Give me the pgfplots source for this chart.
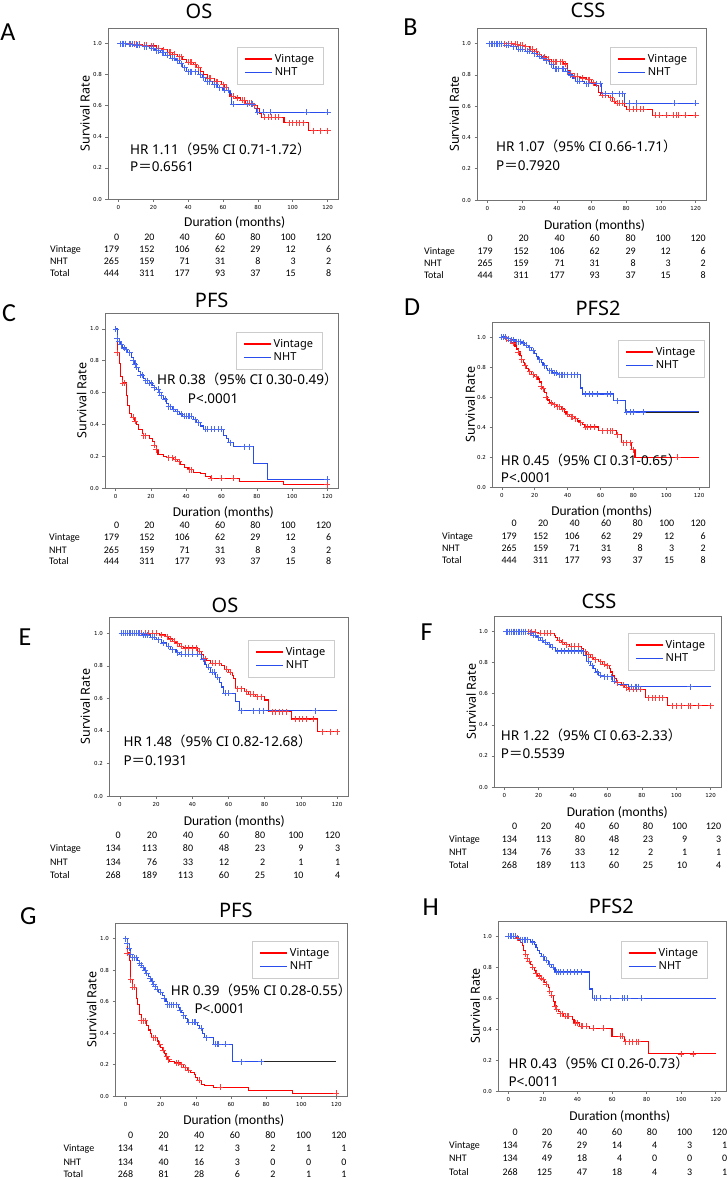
\documentclass[border=0pt]{standalone}
\usepackage{fontspec}
\usepackage{pgfplots}
\pgfplotsset{compat=1.18}
\setmainfont{Carlito}
\newfontfamily\nsans{Noto Sans}
\newfontfamily\cjk{Noto Sans CJK JP}
\newfontfamily\tickfont{DejaVu Sans}
\newcommand{\lp}{{\cjk （}}
\newcommand{\rp}{{\cjk ）}}
\newcommand{\eq}{{\cjk ＝}}
\definecolor{kmred}{rgb}{1,0,0}
\definecolor{kmblue}{rgb}{0.16,0.3,0.93}
\definecolor{kmredm}{rgb}{1,0.24,0.24}
\definecolor{kmbluem}{rgb}{0.3,0.42,0.96}
\definecolor{frame}{rgb}{0.45,0.45,0.45}
\pgfplotsset{
  legend image code/.code={\draw[#1] (0pt,0pt) -- (20pt,0pt); \path (-1pt,0pt) -- (26pt,0pt);},
  km/.style={
    scale only axis, anchor=north west,
    xmin=-6, xmax=126, ymin=0, ymax=1.1,
    xtick={0,20,40,60,80,100,120},
    ytick={0,0.2,0.4,0.6,0.8,1.0},
    yticklabel style={/pgf/number format/.cd,fixed,fixed zerofill,precision=1},
    /pgf/number format/assume math mode=true,
    tick label style={font=\tickfont\fontsize{5.5}{6}\selectfont},
    xtick pos=bottom, ytick pos=left, tick align=outside,
    major tick length=2.5pt,
    every tick/.style={draw=frame, line width=0.5pt},
    axis line style={draw=frame, line width=0.8pt},
    ylabel={Survival Rate},
    ylabel style={at={(axis description cs:-0.1,0.5)}, anchor=center, font=\nsans\fontsize{12.5}{13}\selectfont},
    legend entries={Vintage,NHT},
    legend cell align=left,
    legend style={anchor=north west, draw=black!20, fill=white, font=\nsans\fontsize{11}{12}\selectfont, inner xsep=7pt, inner ysep=5pt, row sep=0pt},
  },
  legred/.style={draw=kmred, line width=1.6pt},
  legblue/.style={draw=kmblue, line width=1.6pt},
  rl/.style={draw=kmred, const plot, line width=1.1pt, mark=none, forget plot},
  bl/.style={draw=kmblue, const plot, line width=1.1pt, mark=none, forget plot},
  rm/.style={draw=kmredm, only marks, mark=+, mark size=3pt, mark options={draw=kmredm, line width=0.75pt}, forget plot},
  bm/.style={draw=kmbluem, only marks, mark=+, mark size=3pt, mark options={draw=kmbluem, line width=0.75pt}, forget plot},
  kt/.style={draw=black!85, line width=1.0pt, mark=none, forget plot},
}
\newcommand{\legimgs}{\addlegendimage{legred}\addlegendimage{legblue}}
\newcommand{\tabrow}[9]{%
  \node[anchor=base west] at (\lx,#1) {#2};
  \node[anchor=base east] at (\ca,#1) {#3};
  \node[anchor=base east] at (\cb,#1) {#4};
  \node[anchor=base east] at (\cc,#1) {#5};
  \node[anchor=base east] at (\cd,#1) {#6};
  \node[anchor=base east] at (\ce,#1) {#7};
  \node[anchor=base east] at (\cf,#1) {#8};
  \node[anchor=base east] at (\cg,#1) {#9};}
\newcommand{\cols}[8]{\def\lx{#1}\def\ca{#2}\def\cb{#3}\def\cc{#4}\def\cd{#5}\def\ce{#6}\def\cf{#7}\def\cg{#8}}
\begin{document}
\begin{tikzpicture}
\useasboundingbox (0pt,0pt) rectangle (728pt,-1178pt);

% ---------------- A: OS ----------------
\begin{axis}[km, at={(108pt,-28pt)}, width=230pt, height=171pt, legend style={at={(0.561,0.889)}}]
\legimgs
\addplot[rl] coordinates {(0,1) (8,0.995) (14,0.99) (18,0.985) (22,0.97) (25,0.96) (28,0.945) (31,0.93) (34,0.915) (37,0.90) (39,0.88) (43,0.865) (45,0.845) (47,0.82) (49,0.80) (51,0.776) (55,0.755) (59,0.735) (61,0.72) (63,0.69) (64,0.66) (67,0.65) (70,0.635) (73,0.615) (77,0.60) (80,0.58) (81,0.55) (82,0.525) (95,0.49) (109,0.44) (120,0.44)};
\addplot[bl] coordinates {(0,1) (5,0.995) (9,0.99) (14,0.98) (18,0.97) (21,0.955) (24,0.94) (27,0.925) (30,0.905) (33,0.89) (35,0.87) (37,0.845) (39,0.82) (46,0.80) (48,0.78) (50,0.755) (54,0.735) (57,0.715) (60,0.70) (64,0.68) (65,0.61) (78,0.585) (79,0.558) (120,0.558)};
\addplot[rm] coordinates {(2,1) (4,1) (6,1) (9,0.995) (10,0.995) (12,0.995) (15,0.99) (16,0.99) (19,0.985) (20,0.985) (23,0.97) (26,0.96) (29,0.945) (30,0.945) (32,0.93) (35,0.915) (36,0.915) (40,0.88) (41,0.88) (42,0.88) (44,0.865) (46,0.845) (52,0.776) (53,0.776) (56,0.755) (57,0.755) (60,0.735) (62,0.72) (66,0.66) (68,0.65) (71,0.635) (72,0.635) (74,0.615) (75,0.615) (76,0.615) (78,0.60) (84,0.525) (86,0.525) (88,0.525) (90,0.525) (92,0.525) (98,0.49) (100,0.49) (102,0.49) (104,0.49) (106,0.49) (112,0.44) (116,0.44) (120,0.44)};
\addplot[bm] coordinates {(1,1) (2,1) (3,1) (4,1) (6,0.995) (7,0.995) (8,0.995) (10,0.99) (11,0.99) (12,0.99) (15,0.98) (16,0.98) (19,0.97) (20,0.97) (22,0.955) (23,0.955) (25,0.94) (26,0.94) (28,0.925) (31,0.905) (32,0.905) (34,0.89) (36,0.87) (38,0.845) (40,0.82) (41,0.82) (42,0.82) (44,0.82) (47,0.80) (49,0.78) (51,0.755) (52,0.755) (55,0.735) (56,0.735) (58,0.715) (61,0.70) (63,0.70) (66,0.61) (74,0.61) (76,0.61) (77,0.61) (80,0.558) (83,0.558) (87,0.558) (108,0.558) (120,0.558)};
\end{axis}

% ---------------- B: CSS ----------------
\begin{axis}[km, at={(477pt,-28pt)}, width=229pt, height=172pt, legend style={at={(0.581,0.890)}}]
\legimgs
\addplot[rl] coordinates {(0,1) (15,0.995) (18,0.99) (21,0.98) (24,0.965) (27,0.95) (29,0.93) (31,0.915) (34,0.90) (37,0.885) (44,0.87) (46,0.83) (47,0.81) (49,0.79) (53,0.78) (57,0.77) (60,0.75) (62,0.73) (64,0.69) (65,0.67) (70,0.655) (72,0.63) (74,0.62) (79,0.60) (80,0.58) (95,0.543) (120,0.543)};
\addplot[bl] coordinates {(0,1) (10,0.99) (14,0.98) (17,0.965) (22,0.95) (26,0.935) (29,0.92) (31,0.905) (33,0.89) (36,0.865) (38,0.84) (45,0.82) (47,0.80) (49,0.78) (51,0.76) (56,0.745) (66,0.68) (79,0.62) (120,0.62)};
\addplot[rm] coordinates {(3,1) (6,1) (8,1) (10,1) (12,1) (14,1) (16,0.995) (17,0.995) (19,0.99) (20,0.99) (22,0.98) (25,0.965) (26,0.965) (28,0.95) (30,0.93) (33,0.915) (35,0.90) (38,0.885) (39,0.885) (40,0.885) (42,0.885) (43,0.885) (45,0.87) (48,0.81) (50,0.79) (52,0.79) (55,0.78) (58,0.77) (59,0.77) (61,0.75) (66,0.67) (68,0.67) (71,0.655) (73,0.63) (75,0.62) (76,0.62) (78,0.62) (82,0.58) (84,0.58) (86,0.58) (88,0.58) (90,0.58) (97,0.543) (99,0.543) (103,0.543) (107,0.543) (109,0.543) (110,0.543) (114,0.543) (120,0.543)};
\addplot[bm] coordinates {(1,1) (2,1) (3,1) (4,1) (5,1) (6,1) (7,1) (8,1) (11,0.99) (12,0.99) (15,0.98) (18,0.965) (19,0.965) (20,0.965) (23,0.95) (24,0.95) (27,0.935) (30,0.92) (32,0.905) (34,0.89) (37,0.865) (39,0.84) (40,0.84) (41,0.84) (43,0.84) (44,0.84) (46,0.82) (48,0.80) (52,0.76) (53,0.76) (57,0.745) (58,0.745) (63,0.745) (65,0.745) (68,0.68) (72,0.68) (76,0.68) (78,0.68) (82,0.62) (86,0.62) (108,0.62) (120,0.62)};
\end{axis}

% ---------------- C: PFS ----------------
\begin{axis}[km, at={(105pt,-313pt)}, width=233pt, height=175pt, legend style={at={(0.562,0.891)}}]
\legimgs
\addplot[rl] coordinates {(0,1) (1,0.85) (2,0.78) (3,0.70) (4,0.66) (6,0.58) (7,0.52) (8,0.47) (9,0.445) (11,0.42) (12,0.40) (13,0.37) (15,0.345) (16,0.33) (19,0.31) (21,0.29) (22,0.27) (23,0.24) (24,0.21) (27,0.20) (29,0.19) (33,0.18) (35,0.165) (37,0.15) (39,0.13) (41,0.115) (44,0.10) (48,0.09) (51,0.075) (54,0.06) (70,0.04) (95,0.02) (120,0.02)};
\addplot[bl] coordinates {(0,1) (1,0.94) (2,0.92) (3,0.90) (4,0.88) (6,0.87) (7,0.85) (9,0.82) (10,0.80) (11,0.78) (12,0.76) (13,0.73) (14,0.71) (16,0.69) (17,0.675) (19,0.66) (21,0.645) (22,0.63) (23,0.62) (25,0.60) (26,0.58) (27,0.56) (29,0.53) (30,0.51) (32,0.495) (34,0.48) (36,0.465) (38,0.45) (44,0.43) (46,0.41) (48,0.39) (50,0.37) (61,0.33) (63,0.31) (64,0.285) (67,0.26) (78,0.155) (86,0.055) (120,0.055)};
\addplot[rm] coordinates {(1,0.85) (4,0.66) (5,0.66) (10,0.445) (11,0.42) (16,0.33) (17,0.33) (22,0.27) (23,0.24) (30,0.19) (32,0.19) (34,0.18) (36,0.165) (42,0.115) (43,0.115) (54,0.06) (60,0.06) (67,0.06) (120,0.02)};
\addplot[bm] coordinates {(0,1) (1,0.94) (2,0.92) (3,0.90) (5,0.88) (6,0.87) (8,0.85) (10,0.80) (11,0.78) (12,0.76) (14,0.71) (15,0.71) (17,0.675) (18,0.675) (19,0.66) (20,0.66) (22,0.63) (24,0.62) (25,0.60) (26,0.58) (28,0.56) (30,0.51) (31,0.51) (33,0.495) (35,0.48) (37,0.465) (39,0.45) (40,0.45) (41,0.45) (42,0.45) (43,0.45) (45,0.43) (47,0.41) (51,0.37) (52,0.37) (54,0.37) (56,0.37) (58,0.37) (60,0.37) (65,0.285) (73,0.26) (76,0.26) (120,0.055)};
\end{axis}

% ---------------- D: PFS2 ----------------
\begin{axis}[km, at={(492pt,-322pt)}, width=217pt, height=165pt, legend style={at={(0.581,0.891)}}]
\legimgs
\addplot[rl] coordinates {(0,1) (2,0.99) (4,0.975) (6,0.96) (8,0.94) (9,0.92) (10,0.90) (11,0.875) (12,0.85) (13,0.83) (14,0.81) (15,0.79) (16,0.77) (18,0.75) (20,0.735) (22,0.72) (23,0.70) (24,0.67) (25,0.655) (26,0.63) (27,0.60) (28,0.58) (29,0.56) (31,0.55) (33,0.535) (36,0.52) (38,0.50) (39,0.485) (41,0.47) (44,0.455) (46,0.44) (47,0.43) (49,0.415) (50,0.40) (59,0.375) (70,0.35) (73,0.295) (79,0.25) (81,0.197) (120,0.197)};
\addplot[bl] coordinates {(0,1) (3,0.99) (5,0.98) (8,0.97) (12,0.96) (14,0.945) (16,0.93) (18,0.91) (20,0.89) (21,0.87) (22,0.85) (24,0.83) (25,0.81) (27,0.79) (28,0.775) (31,0.76) (34,0.75) (48,0.66) (49,0.62) (68,0.575) (75,0.50) (120,0.50)};
\addplot[kt] coordinates {(86,0.50) (120,0.50)};
\addplot[rm] coordinates {(1,1) (3,0.99) (5,0.975) (7,0.96) (10,0.90) (12,0.85) (14,0.81) (17,0.77) (19,0.75) (21,0.735) (24,0.67) (25,0.655) (27,0.60) (30,0.56) (32,0.55) (34,0.535) (35,0.535) (37,0.52) (40,0.485) (42,0.47) (43,0.47) (45,0.455) (48,0.43) (51,0.40) (52,0.40) (54,0.40) (56,0.40) (61,0.375) (64,0.375) (66,0.375) (67,0.375) (70,0.35) (74,0.295) (76,0.295) (78,0.295) (80,0.25) (107,0.197)};
\addplot[bm] coordinates {(0,1) (1,1) (2,1) (4,0.99) (6,0.98) (7,0.98) (9,0.97) (10,0.97) (11,0.97) (13,0.96) (15,0.945) (17,0.93) (19,0.91) (23,0.85) (26,0.81) (29,0.775) (30,0.775) (32,0.76) (33,0.76) (35,0.75) (36,0.75) (37,0.75) (38,0.75) (40,0.75) (42,0.75) (44,0.75) (46,0.75) (51,0.62) (53,0.62) (55,0.62) (58,0.62) (64,0.62) (66,0.62) (70,0.575) (76,0.50) (78,0.50) (80,0.50) (86,0.50)};
\end{axis}

% ---------------- E: OS ----------------
\begin{axis}[km, at={(109pt,-617pt)}, width=239pt, height=179pt, legend style={at={(0.582,0.872)}}]
\legimgs
\addplot[rl] coordinates {(0,1) (22,0.99) (25,0.98) (27,0.965) (29,0.95) (31,0.935) (33,0.92) (35,0.91) (43,0.89) (45,0.87) (46,0.845) (48,0.83) (50,0.815) (56,0.80) (58,0.78) (60,0.76) (62,0.74) (63,0.72) (64,0.66) (69,0.64) (71,0.625) (75,0.61) (80,0.59) (82,0.518) (95,0.473) (109,0.395) (120,0.395)};
\addplot[bl] coordinates {(0,1) (12,0.99) (17,0.975) (20,0.96) (23,0.94) (26,0.92) (28,0.90) (31,0.88) (33,0.87) (45,0.84) (47,0.81) (48,0.79) (50,0.76) (53,0.73) (55,0.70) (56,0.67) (57,0.63) (64,0.58) (66,0.525) (120,0.525)};
\addplot[rm] coordinates {(2,1) (4,1) (6,1) (8,1) (10,1) (12,1) (14,1) (16,1) (18,1) (20,1) (23,0.99) (26,0.98) (28,0.965) (30,0.95) (32,0.935) (34,0.92) (36,0.91) (38,0.91) (40,0.91) (42,0.91) (44,0.89) (47,0.845) (51,0.815) (53,0.815) (55,0.815) (59,0.78) (61,0.76) (65,0.66) (67,0.66) (70,0.64) (72,0.625) (74,0.625) (76,0.61) (78,0.61) (84,0.518) (86,0.518) (88,0.518) (90,0.518) (92,0.518) (97,0.473) (99,0.473) (101,0.473) (103,0.473) (107,0.473) (112,0.395) (116,0.395) (120,0.395)};
\addplot[bm] coordinates {(1,1) (2,1) (3,1) (4,1) (5,1) (6,1) (7,1) (8,1) (9,1) (10,1) (11,1) (13,0.99) (14,0.99) (15,0.99) (18,0.975) (19,0.975) (21,0.96) (24,0.94) (27,0.92) (29,0.90) (32,0.88) (34,0.87) (36,0.87) (38,0.87) (40,0.87) (43,0.87) (46,0.84) (49,0.79) (51,0.76) (52,0.76) (54,0.73) (58,0.63) (60,0.63) (67,0.525) (74,0.525) (77,0.525) (79,0.525) (108,0.525)};
\end{axis}

% ---------------- F: CSS ----------------
\begin{axis}[km, at={(494pt,-616pt)}, width=227pt, height=171pt, legend style={at={(0.590,0.901)}}]
\legimgs
\addplot[rl] coordinates {(0,1) (17,0.995) (20,0.99) (29,0.975) (30,0.96) (31,0.945) (33,0.93) (35,0.915) (38,0.905) (45,0.89) (46,0.87) (48,0.85) (50,0.835) (52,0.82) (55,0.805) (57,0.79) (59,0.78) (61,0.76) (62,0.74) (63,0.72) (64,0.70) (65,0.67) (68,0.655) (70,0.64) (72,0.628) (82,0.574) (95,0.523) (120,0.523)};
\addplot[bl] coordinates {(0,1) (14,0.99) (16,0.975) (19,0.96) (21,0.945) (23,0.93) (25,0.915) (27,0.90) (30,0.875) (46,0.845) (48,0.81) (50,0.78) (52,0.76) (53,0.74) (55,0.72) (57,0.71) (63,0.68) (66,0.66) (72,0.645) (120,0.645)};
\addplot[rm] coordinates {(2,1) (4,1) (6,1) (8,1) (10,1) (12,1) (14,1) (16,1) (18,0.995) (21,0.99) (23,0.99) (25,0.99) (27,0.99) (32,0.945) (34,0.93) (36,0.915) (39,0.905) (41,0.905) (43,0.905) (47,0.87) (49,0.85) (51,0.835) (53,0.82) (56,0.805) (58,0.79) (60,0.78) (66,0.67) (69,0.655) (71,0.64) (73,0.628) (75,0.628) (77,0.628) (79,0.628) (84,0.574) (86,0.574) (88,0.574) (90,0.574) (92,0.574) (98,0.523) (100,0.523) (103,0.523) (107,0.523) (108,0.523) (113,0.523) (120,0.523)};
\addplot[bm] coordinates {(1,1) (2,1) (3,1) (4,1) (5,1) (6,1) (7,1) (8,1) (9,1) (10,1) (11,1) (12,1) (15,0.99) (17,0.975) (18,0.975) (20,0.96) (22,0.945) (24,0.93) (26,0.915) (28,0.90) (31,0.875) (33,0.875) (35,0.875) (37,0.875) (39,0.875) (41,0.875) (43,0.875) (45,0.875) (49,0.81) (51,0.78) (54,0.74) (56,0.72) (58,0.71) (60,0.71) (62,0.71) (64,0.68) (74,0.645) (76,0.645) (77,0.645) (78,0.645) (108,0.645)};
\end{axis}

% ---------------- G: PFS ----------------
\begin{axis}[km, at={(115pt,-923pt)}, width=232pt, height=173pt, legend style={at={(0.591,0.896)}}]
\legimgs
\addplot[rl] coordinates {(0,1) (1,0.91) (2,0.86) (3,0.74) (4,0.69) (6,0.62) (7,0.58) (8,0.52) (9,0.48) (12,0.45) (13,0.42) (14,0.40) (15,0.37) (18,0.35) (19,0.33) (20,0.31) (21,0.29) (22,0.27) (23,0.25) (24,0.23) (25,0.22) (28,0.21) (31,0.20) (33,0.18) (35,0.165) (37,0.15) (39,0.135) (40,0.12) (41,0.10) (43,0.075) (45,0.065) (50,0.055) (70,0.037) (95,0.018) (120,0.018)};
\addplot[bl] coordinates {(0,1) (1,0.97) (2,0.94) (3,0.90) (4,0.88) (7,0.86) (8,0.845) (9,0.83) (10,0.815) (11,0.80) (12,0.78) (13,0.76) (14,0.745) (15,0.73) (16,0.71) (17,0.695) (18,0.68) (19,0.66) (21,0.64) (22,0.62) (23,0.60) (24,0.58) (30,0.56) (31,0.545) (32,0.53) (33,0.51) (34,0.49) (35,0.47) (41,0.45) (42,0.43) (44,0.40) (45,0.37) (50,0.33) (61,0.218) (120,0.218)};
\addplot[kt] coordinates {(77,0.218) (120,0.218)};
\addplot[rm] coordinates {(1,0.91) (3,0.74) (4,0.69) (5,0.69) (9,0.48) (10,0.48) (11,0.48) (16,0.37) (17,0.37) (19.5,0.33) (21.5,0.29) (23.5,0.25) (24.5,0.23) (29,0.21) (30,0.21) (32,0.20) (34,0.18) (36,0.165) (42,0.10) (54,0.055) (120,0.018)};
\addplot[bm] coordinates {(0,1) (1,0.97) (2,0.94) (3,0.90) (4,0.88) (5,0.88) (6,0.88) (8,0.845) (9,0.83) (10,0.815) (11,0.80) (12,0.78) (14,0.745) (15,0.73) (16,0.71) (17,0.695) (18,0.68) (20,0.66) (22,0.62) (24,0.58) (25,0.58) (26,0.58) (27,0.58) (29,0.58) (31,0.545) (33,0.51) (36,0.47) (38,0.47) (39,0.47) (40,0.47) (43,0.43) (46,0.37) (51,0.33) (52,0.33) (53,0.33) (57,0.33) (66,0.218) (77,0.218)};
\end{axis}

% ---------------- H: PFS2 ----------------
\begin{axis}[km, at={(498pt,-921pt)}, width=228pt, height=170pt, legend style={at={(0.539,0.882)}}]
\legimgs
\addplot[rl] coordinates {(0,1) (4,0.99) (6,0.975) (7,0.96) (8,0.94) (9,0.91) (10,0.885) (11,0.86) (12,0.84) (13,0.82) (14,0.80) (15,0.78) (16,0.76) (17,0.745) (19,0.73) (20,0.72) (21,0.705) (22,0.69) (23,0.67) (24,0.645) (25,0.62) (26,0.58) (27,0.55) (28,0.53) (29,0.515) (30,0.50) (32,0.485) (37,0.46) (38,0.44) (41,0.42) (47,0.405) (60,0.353) (67,0.32) (81,0.24) (120,0.24)};
\addplot[bl] coordinates {(0,1) (6,0.98) (13,0.965) (15,0.95) (16,0.93) (17,0.91) (18,0.89) (19,0.87) (21,0.845) (23,0.82) (25,0.80) (27,0.77) (47,0.66) (48.5,0.60) (120,0.60)};
\addplot[rm] coordinates {(2,1) (3,1) (5,0.99) (10,0.885) (11,0.86) (12,0.84) (14,0.80) (16,0.76) (18,0.745) (19,0.73) (20,0.72) (22,0.69) (24,0.645) (25,0.62) (27,0.55) (28,0.53) (30,0.50) (31,0.50) (33,0.485) (34,0.485) (35,0.485) (39,0.44) (40,0.44) (42,0.42) (43,0.42) (45,0.42) (49,0.405) (55,0.405) (65,0.353) (66,0.353) (68,0.32) (70,0.32) (72,0.32) (74,0.32) (75,0.32) (100,0.24) (107,0.24)};
\addplot[bm] coordinates {(0,1) (1,1) (2,1) (3,1) (4,1) (7,0.98) (8,0.98) (9,0.98) (10,0.98) (11,0.98) (14,0.965) (20,0.87) (22,0.845) (24,0.82) (26,0.80) (28,0.77) (29,0.77) (30,0.77) (32,0.77) (34,0.77) (36,0.77) (38,0.77) (40,0.77) (42,0.77) (50,0.60) (51,0.60) (53,0.60) (59,0.60) (66,0.60) (67,0.60) (69,0.60) (77,0.60)};
\end{axis}

% ---------------- texts ----------------
\begin{scope}[x=1pt, y=-1pt]
\tikzset{ttl/.style={font=\nsans\fontsize{20}{20}\selectfont, inner sep=0pt},
         lett/.style={font=\fontsize{26}{26}\selectfont, inner sep=0pt},
         hr/.style={font=\nsans\fontsize{13.5}{14}\selectfont, inner sep=0pt, anchor=base west},
         dur/.style={font=\fontsize{13.5}{14}\selectfont, inner sep=0pt}}
\node[ttl] at (199,11) {OS};
\node[ttl] at (588,10) {CSS};
\node[ttl] at (211.7,300) {PFS};
\node[ttl] at (598,308.3) {PFS2};
\node[ttl] at (225,605) {OS};
\node[ttl] at (599,601.7) {CSS};
\node[ttl] at (235.8,910) {PFS};
\node[ttl] at (611.3,906.7) {PFS2};
\node[lett] at (8,32.5) {A};
\node[lett] at (410.5,27.5) {B};
\node[lett] at (9,313) {C};
\node[lett] at (412,307) {D};
\node[lett] at (25,637) {E};
\node[lett] at (426.5,631.7) {F};
\node[lett] at (28.3,915.7) {G};
\node[lett] at (430.7,907.3) {H};
\node[hr] at (130,154) {HR 1.11\lp 95\% CI 0.71-1.72\rp};
\node[hr] at (130,171) {P\eq 0.6561};
\node[hr] at (496,151.7) {HR 1.07\lp 95\% CI 0.66-1.71\rp};
\node[hr] at (496,170) {P\eq 0.7920};
\node[hr] at (157,384.3) {HR 0.38\lp 95\% CI 0.30-0.49\rp};
\node[hr] at (187.7,403.3) {P<.0001};
\node[hr] at (500.7,465) {HR 0.45\lp 95\% CI 0.31-0.65\rp};
\node[hr] at (500.7,482) {P<.0001};
\node[hr] at (123.3,746.7) {HR 1.48\lp 95\% CI 0.82-12.68\rp};
\node[hr] at (123.3,765) {P\eq 0.1931};
\node[hr] at (500.7,740) {HR 1.22\lp 95\% CI 0.63-2.33\rp};
\node[hr] at (500.7,758.3) {P\eq 0.5539};
\node[hr] at (170.7,995) {HR 0.39\lp 95\% CI 0.28-0.55\rp};
\node[hr] at (194.3,1013.3) {P<.0001};
\node[hr] at (508.3,1068.3) {HR 0.43\lp 95\% CI 0.26-0.73\rp};
\node[hr] at (508.3,1086) {P<.0011};
\node[dur] at (234.7,222.7) {Duration (months)};
\node[dur] at (594.5,225) {Duration (months)};
\node[dur] at (223.3,512) {Duration (months)};
\node[dur] at (601.7,511) {Duration (months)};
\node[dur] at (234.3,821) {Duration (months)};
\node[dur] at (617.3,812) {Duration (months)};
\node[dur] at (233.8,1120) {Duration (months)};
\node[dur] at (619.7,1116.7) {Duration (months)};
\begin{scope}[every node/.style={font=\fontsize{10}{10}\selectfont, inner sep=0pt}]
\cols{50}{119.3}{154.7}{190}{225.4}{260.7}{296}{331.4}
\tabrow{240}{}{0}{20}{40}{60}{80}{100}{120}
\tabrow{252.3}{Vintage}{179}{152}{106}{62}{29}{12}{6}
\tabrow{264}{NHT}{265}{159}{71}{31}{8}{3}{2}
\tabrow{276.7}{Total}{444}{311}{177}{93}{37}{15}{8}
\cols{424}{493}{529}{565}{600}{636}{671}{706}
\tabrow{241.7}{}{0}{20}{40}{60}{80}{100}{120}
\tabrow{254}{Vintage}{179}{152}{106}{62}{29}{12}{6}
\tabrow{266.7}{NHT}{265}{159}{71}{31}{8}{3}{2}
\tabrow{278}{Total}{444}{311}{177}{93}{37}{15}{8}
\cols{49}{119.3}{154.7}{190}{225.4}{260.7}{296}{331.4}
\tabrow{528.3}{}{0}{20}{40}{60}{80}{100}{120}
\tabrow{540.7}{Vintage}{179}{152}{106}{62}{29}{12}{6}
\tabrow{553.3}{NHT}{265}{159}{71}{31}{8}{3}{2}
\tabrow{564.5}{Total}{444}{311}{177}{93}{37}{15}{8}
\cols{442}{517}{548.5}{580}{611.5}{643}{674.5}{706}
\tabrow{526.7}{}{0}{20}{40}{60}{80}{100}{120}
\tabrow{539.3}{Vintage}{179}{152}{106}{62}{29}{12}{6}
\tabrow{551.7}{NHT}{265}{159}{71}{31}{8}{3}{2}
\tabrow{563.3}{Total}{444}{311}{177}{93}{37}{15}{8}
\cols{50}{121}{157.3}{193.3}{229.3}{265.3}{303.7}{340.3}
\tabrow{838.5}{}{0}{20}{40}{60}{80}{100}{120}
\tabrow{851.5}{Vintage}{134}{113}{80}{48}{23}{9}{3}
\tabrow{865}{NHT}{134}{76}{33}{12}{2}{1}{1}
\tabrow{878.5}{Total}{268}{189}{113}{60}{25}{10}{4}
\cols{449}{517.3}{551.3}{585.3}{619.3}{653.3}{687.3}{721.3}
\tabrow{829.5}{}{0}{20}{40}{60}{80}{100}{120}
\tabrow{842.5}{Vintage}{134}{113}{80}{48}{23}{9}{3}
\tabrow{855.5}{NHT}{134}{76}{33}{12}{2}{1}{1}
\tabrow{868.5}{Total}{268}{189}{113}{60}{25}{10}{4}
\cols{63.3}{133.3}{168.9}{204.5}{240.1}{275.7}{311.3}{346.7}
\tabrow{1138.5}{}{0}{20}{40}{60}{80}{100}{120}
\tabrow{1151.5}{Vintage}{134}{41}{12}{3}{2}{1}{1}
\tabrow{1165}{NHT}{134}{40}{16}{3}{0}{0}{0}
\tabrow{1177}{Total}{268}{81}{28}{6}{2}{1}{1}
\cols{449}{518}{552.3}{587.3}{622.3}{657.3}{692.3}{727.3}
\tabrow{1135.5}{}{0}{20}{40}{60}{80}{100}{120}
\tabrow{1148.5}{Vintage}{134}{76}{29}{14}{4}{3}{1}
\tabrow{1161.5}{NHT}{134}{49}{18}{4}{0}{0}{0}
\tabrow{1175.5}{Total}{268}{125}{47}{18}{4}{3}{1}
\end{scope}
\end{scope}
\end{tikzpicture}
\end{document}
